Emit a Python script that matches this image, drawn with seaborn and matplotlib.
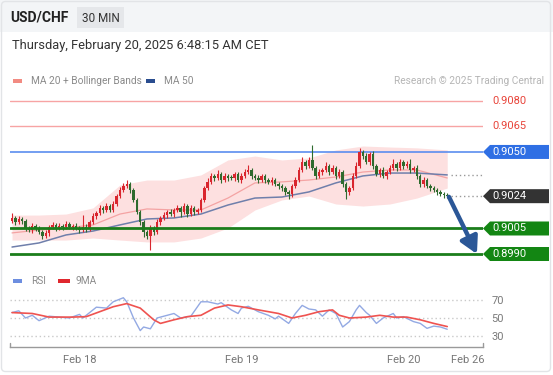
import numpy as np
import pandas as pd
import matplotlib
matplotlib.use('Agg')
import matplotlib.pyplot as plt
import seaborn as sns
from matplotlib.patches import Polygon, Rectangle, FancyBboxPatch

# --- 30 min candles, USD/CHF (close prices, open = previous close) ---
first_open = 0.90095
close = [
    0.90112, 0.90088, 0.90106, 0.90094, 0.90053, 0.90041, 0.90065, 0.90053, 0.90029, 0.90006,
    0.90024, 0.90059, 0.90071, 0.90053, 0.90065, 0.90059, 0.90076, 0.90059, 0.90065, 0.90053,
    0.90041, 0.90059, 0.90047, 0.90088, 0.90124, 0.90141, 0.90171, 0.90159, 0.90182, 0.90159,
    0.90194, 0.90241, 0.90276, 0.90300, 0.90312, 0.90276, 0.90218, 0.90147, 0.90088, 0.90029,
    0.90006, 0.90053, 0.90029, 0.90088, 0.90112, 0.90129, 0.90147, 0.90135, 0.90159, 0.90171,
    0.90147, 0.90182, 0.90135, 0.90171, 0.90147, 0.90159, 0.90218, 0.90288, 0.90324, 0.90359,
    0.90347, 0.90371, 0.90335, 0.90359, 0.90347, 0.90347, 0.90371, 0.90335, 0.90359, 0.90382,
    0.90394, 0.90359, 0.90347, 0.90335, 0.90359, 0.90335, 0.90324, 0.90335, 0.90312, 0.90300,
    0.90288, 0.90265, 0.90253, 0.90300, 0.90335, 0.90394, 0.90441, 0.90418, 0.90453, 0.90406,
    0.90359, 0.90382, 0.90394, 0.90418, 0.90382, 0.90406, 0.90359, 0.90382, 0.90312, 0.90265,
    0.90288, 0.90359, 0.90418, 0.90500, 0.90476, 0.90441, 0.90488, 0.90418, 0.90371, 0.90394,
    0.90359, 0.90382, 0.90406, 0.90429, 0.90406, 0.90441, 0.90418, 0.90429, 0.90394, 0.90406,
    0.90359, 0.90312, 0.90335, 0.90300, 0.90288, 0.90276, 0.90265, 0.90253, 0.90247, 0.90240,
]
# wick lengths in pips above / below the body
wick_up = [
    3, 1, 2, 1, 1, 1, 2, 1, 1, 1,
    2, 1, 2, 1, 2, 1, 2, 1, 1, 2,
    1, 7, 2, 1, 2, 1, 2, 1, 2, 1,
    2, 1, 2, 2, 2.5, 1, 1, 1, 1, 1,
    1, 2, 1, 2, 1, 2, 1, 2, 1, 2,
    1, 2, 1, 2, 1, 1, 1, 1, 2, 2,
    1, 2, 1, 2, 1, 2, 1, 1, 2, 2,
    3, 1, 1, 2, 1, 1, 1, 2, 1, 1,
    1, 1, 1, 1, 2, 2, 3, 1, 2, 9,
    1, 2, 1, 2, 1, 2, 1, 2, 1, 1,
    1, 2, 2, 2.5, 1, 2, 1, 2, 1, 1,
    2, 1, 2, 3, 1, 2, 1, 2, 3, 1,
    2, 1, 2, 1, 1, 1, 1, 1, 1, 1,
]
wick_dn = [
    1, 2, 1, 2, 2, 1, 2, 2, 1, 2,
    1, 2, 1, 2, 1, 2, 1, 1, 2, 1,
    2, 1, 2, 1, 1, 2, 1, 2, 1, 1,
    1, 1, 1, 1, 1, 2, 1, 1, 2, 3,
    2, 8, 2, 1, 2, 1, 2, 1, 2, 1,
    3, 1, 2, 1, 2, 1, 1, 1, 1, 1,
    2, 1, 2, 1, 2, 1, 2, 1, 2, 1,
    1, 2, 1, 2, 1, 2, 1, 2, 1, 2,
    2, 2, 3, 2, 1, 1, 1, 2, 1, 1,
    2, 1, 2, 1, 2, 1, 2, 1, 2, 4,
    2, 1, 1, 1, 2, 1, 2, 2, 1, 2,
    1, 2, 1, 1, 2, 1, 2, 1, 2, 1,
    2, 2, 2, 1, 2, 1, 2, 1, 2, 1,
]

# moving averages / bollinger bands (sampled every 8 candles)
ma_idx = [0, 8, 16, 24, 32, 40, 48, 56, 64, 72, 80, 88, 96, 104, 112, 120, 129]
ma20 = [0.90024, 0.90041, 0.90053, 0.90071, 0.90135, 0.90165, 0.90159, 0.90159, 0.90229,
        0.90318, 0.90324, 0.90335, 0.90353, 0.90382, 0.90394, 0.90394, 0.90347]
ma50 = [0.89941, 0.89965, 0.90012, 0.90035, 0.90071, 0.90106, 0.90112, 0.90135, 0.90188,
        0.90229, 0.90235, 0.90265, 0.90318, 0.90359, 0.90376, 0.90376, 0.90365]
bb_upper = [0.90129, 0.90129, 0.90135, 0.90171, 0.90306, 0.90335, 0.90335, 0.90365, 0.90453,
            0.90476, 0.90453, 0.90465, 0.90512, 0.90535, 0.90529, 0.90524, 0.90512]
bb_lower = [0.89982, 0.89982, 0.89982, 0.89994, 0.89982, 0.89971, 0.89971, 0.89994, 0.90053,
            0.90159, 0.90218, 0.90241, 0.90194, 0.90182, 0.90194, 0.90229, 0.90288]

# RSI and its 9-period MA
rsi_idx = [0, 2, 4, 6, 8, 11, 14, 17, 20, 21,
           25, 28, 30, 33, 34, 36, 38, 39, 41, 43,
           46, 48, 50, 53, 56, 58, 61, 62, 65, 67,
           68, 70, 73, 76, 78, 79, 82, 84, 86, 88,
           90, 92, 94, 96, 98, 100, 102, 103, 105, 106,
           108, 110, 113, 114, 116, 119, 121, 123, 125, 127, 129]
rsi_val = [56, 58, 50, 53, 47, 52, 51, 50, 54, 50,
           62, 61, 68, 72.5, 68, 50, 36, 40, 38, 50,
           53, 55, 50, 52, 68, 68, 65.5, 67, 59, 55,
           61, 63, 57, 53, 49, 52, 44, 55, 64, 60,
           59, 52, 59, 55, 40, 46, 59, 64, 56, 53,
           44, 50, 55, 50, 51.5, 46, 44, 38.5, 41, 40, 37.5]
sig_idx = [0, 6, 11, 18, 22, 26, 30, 34, 38, 42, 44, 48, 52, 56, 60, 64,
           68, 73, 79, 83, 87, 91, 95, 97, 100, 105, 109, 113, 117, 121, 125, 129]
sig_val = [56, 55, 51, 51, 51.5, 57, 62.5, 66, 61, 48, 44, 48, 51.5, 53, 61, 64.5,
           62.5, 59, 55, 50, 53, 57, 59, 53, 50, 51, 53, 51, 51, 48, 44, 40.5]

# key levels
res_levels = [0.9080, 0.9065]
pivot_level = 0.9050
sup_levels = [0.9005, 0.8990]
target_level = 0.8990

day_ticks = [20, 68, 116, 135]
day_labels = ['Feb 18', 'Feb 19', 'Feb 20', 'Feb 26']

# --- candle table ---
df = pd.DataFrame({'close': close})
df['idx'] = np.arange(len(df))
df['open'] = [first_open] + close[:-1]
df['high'] = df[['open', 'close']].max(axis=1) + np.array(wick_up) * 1e-4
df['low'] = df[['open', 'close']].min(axis=1) - np.array(wick_dn) * 1e-4
df['up'] = df['close'] > df['open']

sns.set_style('white')
plt.rcParams['font.family'] = ['Roboto', 'DejaVu Sans']

W, H = 553, 375
fig = plt.figure(figsize=(W / 100, H / 100), dpi=100)


def box(x0, y0, x1, y1):
    return [x0 / W, 1 - y1 / H, (x1 - x0) / W, (y1 - y0) / H]


deco = fig.add_axes([0, 0, 1, 1])
deco.set_xlim(0, W)
deco.set_ylim(H, 0)
deco.axis('off')

ax = fig.add_axes(box(10, 88, 483, 262))
rax = fig.add_axes(box(10, 288, 483, 347))
for a in (ax, rax):
    a.set_facecolor('none')

# header
deco.add_patch(Rectangle((0, 0), W, 32, color='#f3f5f7', lw=0))
deco.add_patch(FancyBboxPatch((1.5, 1.5), W - 4, H - 5, boxstyle='round,pad=0,rounding_size=4',
                              fc='none', ec='#e2e4e7', lw=1))
deco.text(10, 18, 'USD/CHF', fontsize=10, fontweight='bold', color='#222222', va='center')
deco.add_patch(Rectangle((77, 7), 47, 21, color='#e5e7ea', lw=0))
deco.text(100.5, 18, '30 MIN', fontsize=8.5, color='#333333', va='center', ha='center')
deco.text(12, 45, 'Thursday, February 20, 2025 6:48:15 AM CET', fontsize=9.3,
          color='#333333', va='center')

# legends
deco.add_patch(Rectangle((13, 78.5), 9, 4, color='#f28b82', lw=0))
deco.text(31, 80.5, 'MA 20 + Bollinger Bands', fontsize=7.3, color='#8a8a8a', va='center')
deco.add_patch(Rectangle((146, 78.5), 9, 4, color='#2a4d8f', lw=0))
deco.text(164, 80.5, 'MA 50', fontsize=7.3, color='#8a8a8a', va='center')
deco.text(544, 80.5, 'Research © 2025 Trading Central', fontsize=7.3, color='#b5b5b5',
          va='center', ha='right')
deco.add_patch(Rectangle((13, 279), 9, 4, color='#6d8ee0', lw=0))
deco.text(31, 281, 'RSI', fontsize=7.3, color='#8a8a8a', va='center')
deco.add_patch(Rectangle((58, 279), 12, 4, color='#e0282e', lw=0))
deco.text(76, 281, '9MA', fontsize=7.3, color='#8a8a8a', va='center')

# --- price panel ---
ax.set_xlim(-0.6, 139.6)
ax.set_ylim(0.89853, 0.90876)
ax.fill_between(ma_idx, bb_lower, bb_upper, color='#fde0e0', lw=0, zorder=1)
sns.lineplot(x=ma_idx, y=ma20, ax=ax, color='#f4a3a3', lw=0.9, zorder=2)
sns.lineplot(x=ma_idx, y=ma50, ax=ax, color='#6f7fab', lw=1.1, zorder=2)

for lv in res_levels:
    ax.axhline(lv, color='#f7a4a4', lw=1, zorder=1)
ax.axhline(pivot_level, color='#5b8def', lw=1.2, zorder=1)

cols = np.where(df['up'], '#d9262e', '#2e6b2e')
ax.vlines(df['idx'], df['low'], df['high'], colors=cols, lw=0.8, zorder=3)
body = (df['close'] - df['open']).abs().clip(lower=3e-5)
ax.bar(df['idx'], body, bottom=df[['open', 'close']].min(axis=1), width=0.72,
       color=cols, lw=0, zorder=3)

for lv in sup_levels:
    ax.axhline(lv, color='#1b7d1b', lw=2, zorder=4)

last_x = df['idx'].iloc[-1]
last_close = df['close'].iloc[-1]
ax.hlines([last_close, ma50[-1]], last_x + 1, 139.6, colors='#999999', lw=1,
          linestyles=(0, (1, 2)), zorder=2)
ax.annotate('', xy=(137.8, target_level), xytext=(last_x + 0.5, last_close - 0.00004),
            arrowprops=dict(arrowstyle='-|>,head_width=0.55,head_length=1.0',
                            color='#2b5797', lw=3.2, shrinkA=0, shrinkB=0), zorder=6)
ax.axis('off')

fig.canvas.draw()


def ypx(price):
    return H - ax.transData.transform((0, price))[1]


for lv in res_levels:
    deco.text(492, ypx(lv), f'{lv:.4f}', fontsize=8, color='#e8443a', va='center')

tags = [(pivot_level, '#2f6fe4'), (last_close, '#333333'),
        (sup_levels[0], '#138613'), (sup_levels[1], '#138613')]
for lv, c in tags:
    yc = ypx(lv)
    deco.add_patch(Polygon([(483, yc), (490, yc - 7), (549, yc - 7), (549, yc + 7), (490, yc + 7)],
                           closed=True, fc=c, ec='none'))
    deco.text(492, yc, f'{lv:.4f}', fontsize=8, color='white', va='center')

# --- RSI panel ---
rax.set_xlim(-0.6, 139.6)
rax.set_ylim(17.8, 83.3)
sns.lineplot(x=rsi_idx, y=rsi_val, ax=rax, color='#93a9e3', lw=1)
sns.lineplot(x=sig_idx, y=sig_val, ax=rax, color='#ef5350', lw=1.2)
rax.set_yticks([30, 50, 70])
rax.yaxis.tick_right()
rax.grid(axis='y', color='#c9c9c9', linestyle=(0, (1, 2)), lw=1)
rax.set_xticks(day_ticks)
rax.set_xticklabels(day_labels)
rax.tick_params(axis='y', length=0, pad=6, labelsize=8, labelcolor='#7a7a7a')
rax.tick_params(axis='x', length=0, pad=6, labelsize=8, labelcolor='#777777')
rax.set_xlabel('')
rax.set_ylabel('')
for s in ['top', 'left', 'right']:
    rax.spines[s].set_visible(False)
rax.spines['bottom'].set_color('#9a9a9a')
rax.spines['bottom'].set_linewidth(1)
for xe in (-0.6, 139.6):
    rax.axvline(xe, ymin=0, ymax=0.06, color='#9a9a9a', lw=1, clip_on=False)

fig.savefig('out.png', dpi=100)
